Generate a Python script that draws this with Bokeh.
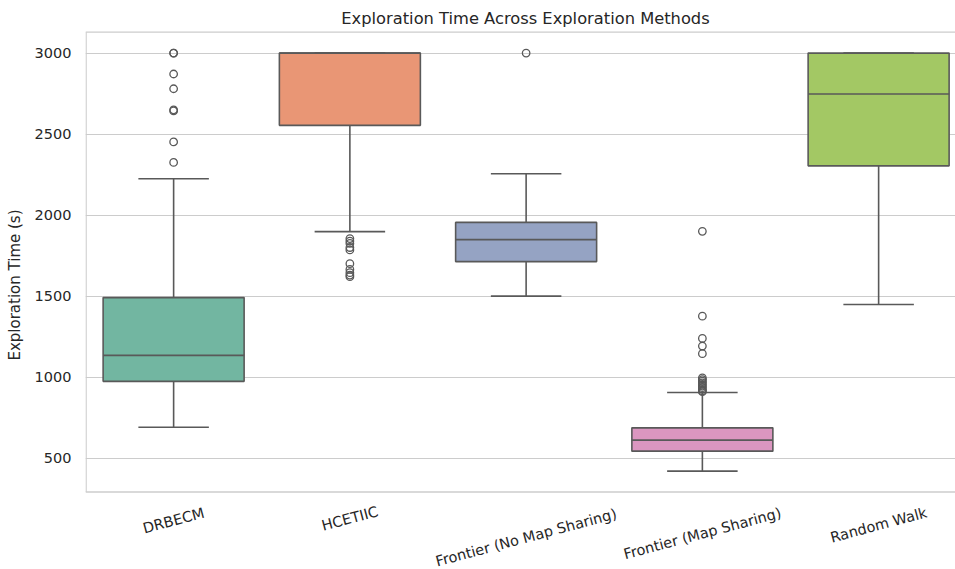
from bokeh.plotting import figure
from bokeh.models import Range1d, FixedTicker, Label, ColumnDataSource
from bokeh.embed import file_html
from bokeh.resources import INLINE

# ---- data ----
methods = ["DRBECM", "HCETIIC", "Frontier (No Map Sharing)", "Frontier (Map Sharing)", "Random Walk"]
q1 = [974, 2554, 1713, 543, 2304]
median = [1134, 3000, 1849, 611, 2748]
q3 = [1491, 3000, 1955, 687, 3000]
whisker_low = [691, 1898, 1500, 420, 1448]
whisker_high = [2224, 3000, 2255, 905, 3000]
outliers_drbecm = [3000, 3000, 2871, 2780, 2650, 2643, 2452, 2325]
outliers_hcetiic = [1855, 1840, 1825, 1800, 1785, 1700, 1665, 1645, 1630, 1620]
outliers_frontier_nms = [3000]
outliers_frontier_ms = [1900, 1376, 1239, 1192, 1145, 995, 985, 975, 965, 955, 945, 935, 925, 915, 910]
outliers_random_walk = []
y_ticks = [500, 1000, 1500, 2000, 2500, 3000]
title_text = "Exploration Time Across Exploration Methods"
y_label = "Exploration Time (s)"

# ---- style ----
colors = ["#72b6a1", "#e99675", "#95a3c3", "#db96c0", "#a3c864"]
line_col = "#595959"
spine_col = "#cccccc"
text_col = "#262626"
font = "DejaVu Sans"

W, H = 955, 569
frame_left = 85
frame_top_px, frame_bot_px = 31.7, 491.5      # axes box inside the canvas
axis_lo, axis_hi = 291, 3129                  # value limits of the axes box
k = (axis_hi - axis_lo) / (frame_bot_px - frame_top_px)   # value per pixel
view_hi = axis_hi + frame_top_px * k
view_lo = axis_lo - (H - frame_bot_px) * k
px_per_cat = 176.25
x_lo = -0.5
x_hi = x_lo + (W - frame_left) / px_per_cat

xs = list(range(len(methods)))
box_w = 0.8
cap_w = 0.4

src = ColumnDataSource(dict(
    x=xs, q1=q1, med=median, q3=q3, lo=whisker_low, hi=whisker_high, color=colors,
    x0=[x - box_w / 2 for x in xs], x1=[x + box_w / 2 for x in xs],
    c0=[x - cap_w / 2 for x in xs], c1=[x + cap_w / 2 for x in xs],
))

p = figure(width=W, height=H, output_backend="svg", toolbar_location=None,
           x_range=Range1d(x_lo, x_hi), y_range=Range1d(view_lo, view_hi),
           min_border_left=frame_left, min_border_right=0, min_border_top=0, min_border_bottom=0)
p.background_fill_color = "white"
p.border_fill_color = "white"
p.outline_line_color = None
p.xaxis.visible = False
p.xgrid.visible = False
p.ygrid.grid_line_color = spine_col
p.ygrid.grid_line_width = 1.1

# axes box (spines): left, bottom, top
eps = 0.6 / px_per_cat
p.segment(x0=[x_lo + eps, x_lo, x_lo], y0=[axis_lo, axis_lo, axis_hi],
          x1=[x_lo + eps, x_hi, x_hi], y1=[axis_hi, axis_lo, axis_hi],
          line_color=spine_col, line_width=1.3)

# whiskers and caps
p.segment(x0="x", y0="q1", x1="x", y1="lo", source=src, line_color=line_col, line_width=1.6)
p.segment(x0="x", y0="q3", x1="x", y1="hi", source=src, line_color=line_col, line_width=1.6)
p.segment(x0="c0", y0="lo", x1="c1", y1="lo", source=src, line_color=line_col, line_width=1.6)
p.segment(x0="c0", y0="hi", x1="c1", y1="hi", source=src, line_color=line_col, line_width=1.6)
# boxes
p.vbar(x="x", width=box_w, bottom="q1", top="q3", source=src, fill_color="color",
       line_color=line_col, line_width=1.6)
# medians
p.segment(x0="x0", y0="med", x1="x1", y1="med", source=src, line_color=line_col, line_width=1.6)

# outliers
all_out = [outliers_drbecm, outliers_hcetiic, outliers_frontier_nms, outliers_frontier_ms, outliers_random_walk]
ox, oy = [], []
for i, vals in enumerate(all_out):
    for v in vals:
        ox.append(i)
        oy.append(v)
p.scatter(ox, oy, marker="circle", size=7.5, fill_color=None, line_color=line_col, line_width=1.3)

# y axis
p.yaxis.ticker = FixedTicker(ticks=y_ticks)
p.yaxis.axis_line_color = None
p.yaxis.major_tick_line_color = None
p.yaxis.minor_tick_line_color = None
p.yaxis.major_tick_out = 0
p.yaxis.major_tick_in = 0
p.yaxis.minor_tick_out = 0
p.yaxis.major_label_standoff = 14
p.yaxis.major_label_text_font = font
p.yaxis.major_label_text_font_size = "14.5px"
p.yaxis.major_label_text_color = text_col
p.yaxis.axis_label = y_label
p.yaxis.axis_label_text_font = font
p.yaxis.axis_label_text_font_size = "15px"
p.yaxis.axis_label_text_font_style = "normal"
p.yaxis.axis_label_text_color = text_col
p.yaxis.axis_label_standoff = 8

# rotated category labels, centred below each box (matplotlib rotation=15 style)
label_drop_px = [28.5, 26.5, 45.5, 41.5, 33.0]
for i, name in enumerate(methods):
    p.add_layout(Label(x=i, y=axis_lo - label_drop_px[i] * k, text=name,
                       angle=15, angle_units="deg", text_align="center", text_baseline="middle",
                       text_font=font, text_font_size="14.5px", text_color=text_col))

# title
title_x = x_lo + (525 - frame_left) / px_per_cat
p.add_layout(Label(x=title_x, y=axis_hi + (frame_top_px - 18) * k, text=title_text,
                   text_align="center", text_baseline="middle",
                   text_font=font, text_font_size="16.3px", text_color=text_col))

open("out.html", "w").write(file_html(p, INLINE))
